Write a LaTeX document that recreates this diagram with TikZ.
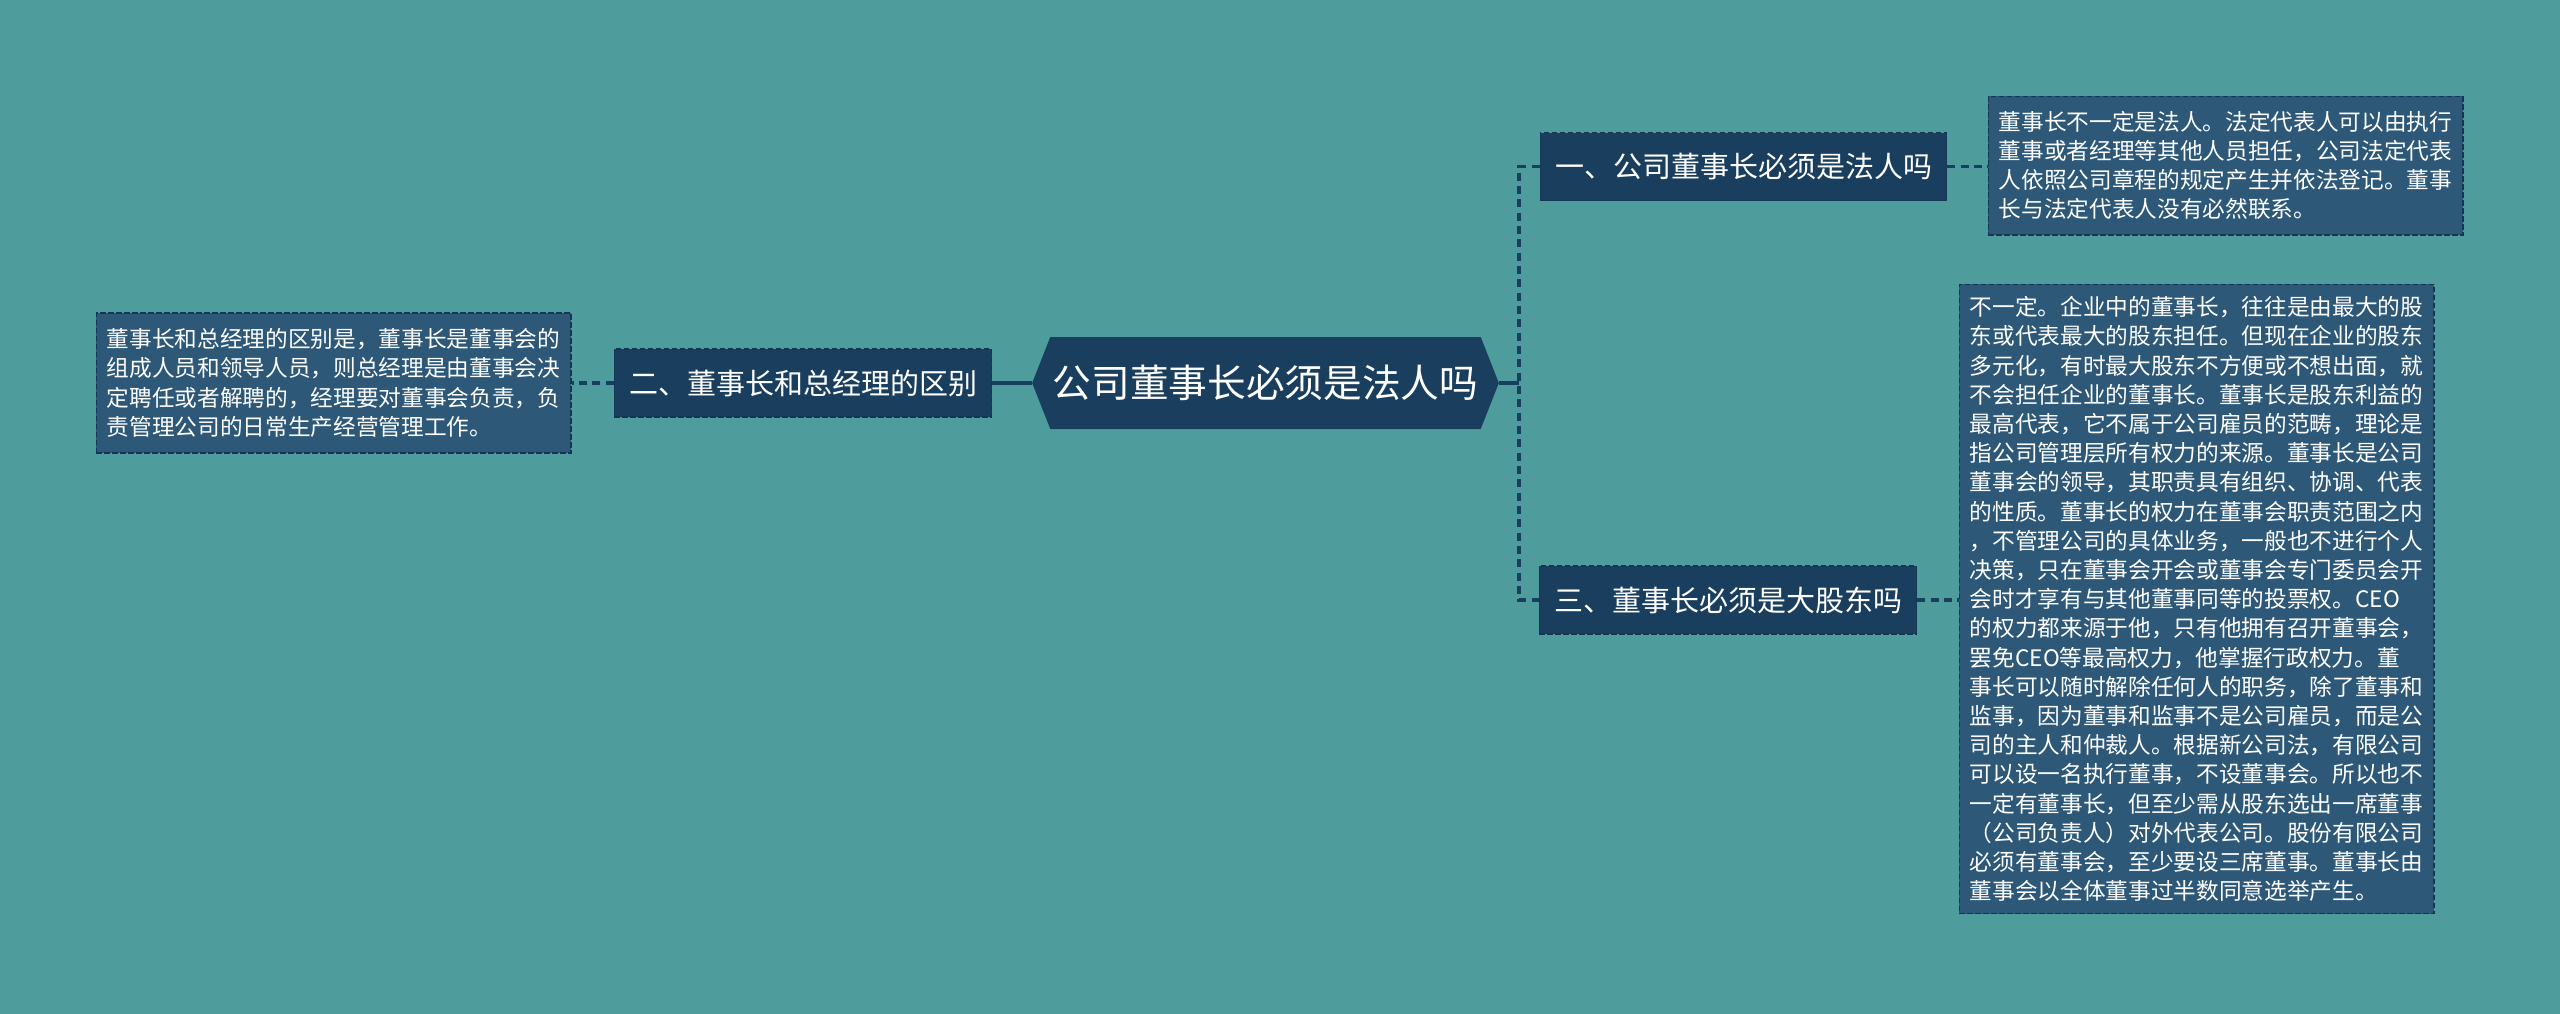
\documentclass[tikz,border=0pt]{standalone}
\usepackage{fontspec}
\setmainfont{Noto Sans CJK SC}
\usetikzlibrary{shapes.symbols,positioning}
\definecolor{cbg}{HTML}{4E9C9C}
\definecolor{cnavy}{HTML}{1A3E5E}
\definecolor{cleaf}{HTML}{2D5878}
\definecolor{cedge}{HTML}{143554}
\tikzset{
  sroot/.style={signal, signal to=west and east, signal pointer angle=137,
                fill=cnavy, text=white, inner sep=0pt,
                minimum width=350pt, minimum height=69pt,
                font=\fontsize{29}{34}\selectfont},
  stopic/.style={rectangle, fill=cnavy, draw=cedge, line width=1pt,
                 dash pattern=on 4pt off 2pt, text=white,
                 inner xsep=11pt, inner ysep=0pt, minimum height=51pt,
                 font=\fontsize{21.75}{26}\selectfont},
  sleaf/.style={rectangle, fill=cleaf, draw=cedge, line width=1pt,
                dash pattern=on 4pt off 2pt, text=white, align=left,
                text width=340pt, inner xsep=8pt, inner ysep=8pt,
                font=\fontsize{17}{21.9}\selectfont},
  slink/.style={draw=cnavy, line width=2.4pt},
  sdash/.style={slink, dash pattern=on 6pt off 4pt},
}

\begin{document}
\begin{tikzpicture}[x=0.75pt, y=-0.75pt]
  \useasboundingbox (0,0) rectangle (2560,1014);
  \fill[cbg] (0,0) rectangle (2560,1014);

  \node[sroot] (root) at (1265.5,383) {公司董事长必须是法人吗};

  \node[stopic] (t1) at (1743.5,166.5) {一、公司董事长必须是法人吗};
  \node[stopic] (t2) at (803,383) {二、董事长和总经理的区别};
  \node[stopic] (t3) at (1728,600) {三、董事长必须是大股东吗};

  \node[sleaf, minimum height=104pt] (d1) at (2225.5,165.5) {%
    董事长不一定是法人。法定代表人可以由执行\\
    董事或者经理等其他人员担任，公司法定代表\\
    人依照公司章程的规定产生并依法登记。董事\\
    长与法定代表人没有必然联系。};
  \node[sleaf, minimum height=105pt] (d2) at (333.5,383) {%
    董事长和总经理的区别是，董事长是董事会的\\
    组成人员和领导人员，则总经理是由董事会决\\
    定聘任或者解聘的，经理要对董事会负责，负\\
    责管理公司的日常生产经营管理工作。};
  \node[sleaf, minimum height=472pt] (d3) at (2196.5,599) {%
    不一定。企业中的董事长，往往是由最大的股\\
    东或代表最大的股东担任。但现在企业的股东\\
    多元化，有时最大股东不方便或不想出面，就\\
    不会担任企业的董事长。董事长是股东利益的\\
    最高代表，它不属于公司雇员的范畴，理论是\\
    指公司管理层所有权力的来源。董事长是公司\\
    董事会的领导，其职责具有组织、协调、代表\\
    的性质。董事长的权力在董事会职责范围之内\\
    ，不管理公司的具体业务，一般也不进行个人\\
    决策，只在董事会开会或董事会专门委员会开\\
    会时才享有与其他董事同等的投票权。CEO\\
    的权力都来源于他，只有他拥有召开董事会，\\
    罢免CEO等最高权力，他掌握行政权力。董\\
    事长可以随时解除任何人的职务，除了董事和\\
    监事，因为董事和监事不是公司雇员，而是公\\
    司的主人和仲裁人。根据新公司法，有限公司\\
    可以设一名执行董事，不设董事会。所以也不\\
    一定有董事长，但至少需从股东选出一席董事\\
    （公司负责人）对外代表公司。股份有限公司\\
    必须有董事会，至少要设三席董事。董事长由\\
    董事会以全体董事过半数同意选举产生。};

  % trunk on the right side
  \coordinate (trunk) at (1519,383);
  \draw[slink] (root.east) -- (trunk);
  \draw[sdash] (t1.west) -- (t1.west -| trunk) -- (t3.west -| trunk) -- (t3.west);
  \draw[slink] (root.west) -- (t2.east);
  \draw[sdash] (t2.west) -- (t2.west -| d2.east);
  \draw[sdash] (t1.east) -- (t1.east -| d1.west);
  \draw[sdash] (t3.east) -- (t3.east -| d3.west);
\end{tikzpicture}
\end{document}
